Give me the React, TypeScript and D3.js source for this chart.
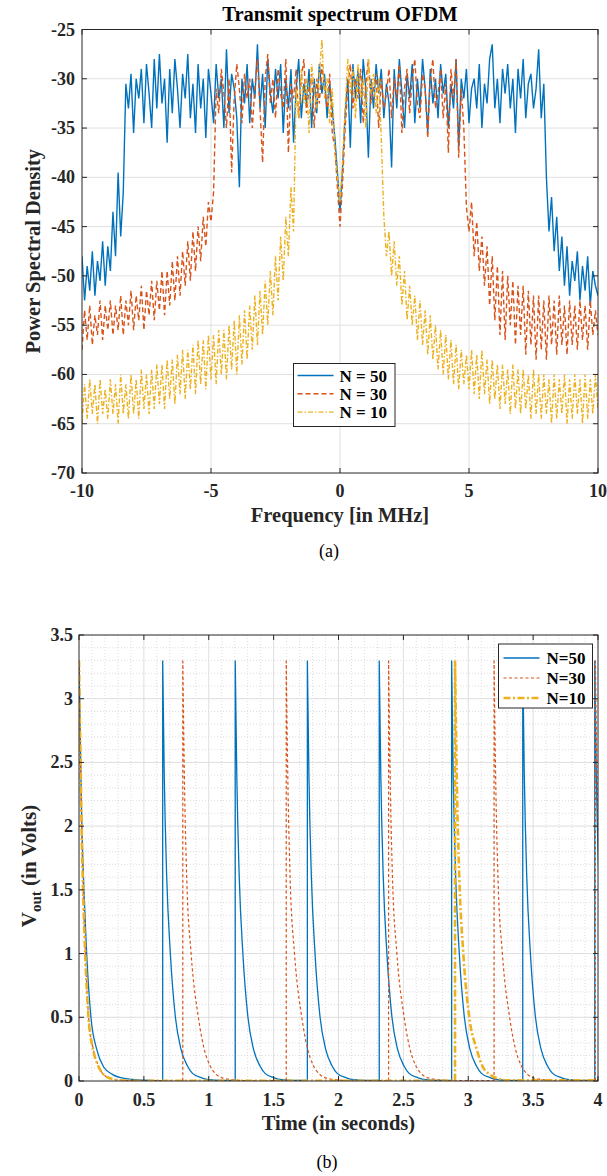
import React from 'react';
import * as d3 from 'd3';

const FONT = '"Liberation Serif", "Times New Roman", serif';
const INK = '#262626';
const BLUE = '#0072BD';
const ORANGE = '#D95319';
const YELLOW = '#EDB120';

// ---- (a) transmit spectrum, dB values read every 0.1 MHz from -10 to 10 ----
const freqMin = -10;
const freqMax = 10;
const psdN50 = [
  -48, -52.5, -49, -51.5, -47.5, -52, -48.5, -50.5, -46.5, -51,
  -47, -49.5, -43.5, -48, -39.5, -46, -41.5, -30.5, -33, -29.5,
  -35.5, -30, -32, -29, -34.5, -28.5, -31.5, -35, -28, -33,
  -27.5, -32.5, -30, -36.5, -29, -33.5, -28, -31, -35, -29.5,
  -32, -27.5, -34, -30.5, -35.5, -28.5, -33, -30, -36, -29,
  -31.5, -34.5, -28.5, -32, -30, -35, -27, -33.5, -29.5, -31,
  -34, -41, -30, -32.5, -28.5, -34.5, -30, -32, -26.5, -33,
  -29.5, -35, -28, -31.5, -33.5, -29, -32, -28.5, -35.5, -30,
  -33, -29, -36.5, -31, -28, -34, -30.5, -32.5, -29, -35,
  -30, -33.5, -28.5, -31.5, -29.5, -34, -30.5, -33, -36, -39.5,
  -43.5, -39, -33.5, -30, -37, -28.5, -32, -29, -34.5, -28,
  -31, -38, -30, -33, -28.5, -31.5, -29, -34, -30.5, -32.5,
  -39, -29, -33, -28, -31.5, -35, -29.5, -32, -28.5, -34.5,
  -30, -33, -28, -31, -35.5, -29, -32.5, -30, -34, -28.5,
  -31.5, -29.5, -35, -30.5, -33, -28, -37, -30, -32, -29,
  -34.5, -31, -30, -33, -28.5, -35, -30.5, -32.5, -28, -26.5,
  -33, -30, -34.5, -29, -31.5, -28.5, -33, -30, -35.5, -29,
  -32, -28, -34, -30.5, -29.5, -33, -31, -27, -34, -30.5,
  -40, -45.5, -42, -47.5, -44, -49.5, -46, -51, -47, -52,
  -48.5, -50.5, -47.5, -52.5, -49, -51.5, -48, -53, -49.5, -51,
  -52,
];
const psdN30 = [
  -57.5, -53.5, -56.5, -53, -57, -54, -56, -52.5, -56.5, -53,
  -55.5, -52.5, -56, -53, -55.5, -52, -56, -52.5, -55, -51.5,
  -55.5, -52, -54.5, -51, -55.5, -51.5, -54, -50.5, -54.5, -50.5,
  -53.5, -49.5, -54, -49.5, -53, -48.5, -52.5, -48, -52, -47.5,
  -51, -46.5, -50.5, -45.5, -49.5, -45, -48.5, -44, -47, -42.5,
  -44.5, -41.5, -31, -33.5, -29, -31.5, -35, -30, -39.5, -32,
  -28.5, -31, -34.5, -29.5, -32, -30, -35, -31, -28, -33,
  -38.5, -30, -27.5, -32.5, -30, -34, -29, -31.5, -33, -28,
  -37.5, -30.5, -32, -29, -34, -30, -28, -33.5, -31, -29.5,
  -35, -30, -32.5, -28.5, -31, -33, -29.5, -35.5, -37, -41,
  -45, -40.5, -35, -31, -28.5, -33, -30, -32, -29, -34.5,
  -30.5, -28, -32.5, -31, -29.5, -35, -30, -33, -31.5, -29,
  -34, -30, -32, -28.5, -35.5, -31, -29, -33.5, -30, -28,
  -32.5, -34, -29.5, -31, -36, -30, -28, -33, -31.5, -29,
  -34, -30.5, -37.5, -29, -32, -28, -38, -31, -35, -43,
  -45.5, -42.5, -48, -44.5, -49.5, -46, -51, -47, -53, -48,
  -54.5, -49, -56, -49.5, -56.5, -50, -55, -50.5, -57, -51,
  -56, -51, -58, -51.5, -57, -52, -58.5, -52, -57.5, -52.5,
  -58.5, -52, -57, -52.5, -58, -52, -57, -53, -58, -52.5,
  -57, -53, -57.5, -52.5, -56.5, -53, -57.5, -52.5, -56, -53.5,
  -56,
];
const psdN10 = [
  -65, -61, -64.5, -60.5, -64, -61, -65, -60.5, -64, -61.5,
  -64.5, -60.5, -64, -61, -65, -60, -64, -61, -64.5, -60,
  -64, -60.5, -64.5, -59.5, -63.5, -60, -64, -59.5, -63.5, -59,
  -63, -59, -63.5, -58.5, -62.5, -58.5, -63, -58, -62, -57.5,
  -62.5, -57.5, -61.5, -57, -62, -56.5, -61, -56.5, -61.5, -56,
  -60.5, -56, -61, -55.5, -60, -55.5, -60.5, -55, -59.5, -54.5,
  -60, -54, -59, -53.5, -58.5, -53, -57.5, -52, -57, -51.5,
  -56, -50.5, -55, -49.5, -54, -48, -52.5, -46, -50.5, -44,
  -48, -41, -45.5, -31, -34, -29, -32.5, -30, -35.5, -28.5,
  -31, -33, -29.5, -26, -32, -30, -34.5, -31, -37, -40,
  -42.5, -38.5, -33, -28, -31.5, -29, -34, -28.5, -32, -30,
  -35, -28, -31.5, -29.5, -33.5, -30, -36, -44, -48, -45.5,
  -50, -46.5, -51, -48, -53, -49.5, -54.5, -51, -55, -52,
  -56.5, -52.5, -57, -53.5, -58, -54, -58.5, -55, -59.5, -55.5,
  -60, -56, -60.5, -56.5, -61, -57, -61.5, -57.5, -61, -58,
  -61.5, -57.5, -62, -58, -62.5, -57.5, -62, -58.5, -63, -58.5,
  -62.5, -59, -63.5, -59, -63, -59.5, -64, -59, -63.5, -59.5,
  -64, -59.5, -63.5, -60, -64.5, -59.5, -64, -60, -64.5, -60,
  -64, -60.5, -65, -60, -64.5, -60.5, -64, -60, -65, -60.5,
  -64.5, -60, -64, -60.5, -65, -60, -64.5, -60.5, -64, -60,
  -63.5,
];
const psdTicksX = [-10, -5, 0, 5, 10];
const psdTicksY = [-70, -65, -60, -55, -50, -45, -40, -35, -30, -25];
const psdLegend = ['N = 50', 'N = 30', 'N = 10'];

// ---- (b) output voltage: pulse start times and read decay profiles [dt, V] ----
const vN50Initial = [[0, 3.3], [0.02, 2.1], [0.04, 1.45], [0.059, 1.0], [0.092, 0.5], [0.136, 0.25], [0.19, 0.11], [0.26, 0.05], [0.35, 0.02], [0.5, 0.006], [0.6, 0.003]];
const vN50Starts = [0.645, 1.204, 1.76, 2.314, 2.872, 3.42, 3.975];
const vN50Decay = [[0, 3.3], [0.012, 2.4], [0.031, 1.6], [0.059, 1.0], [0.098, 0.5], [0.141, 0.25], [0.19, 0.12], [0.23, 0.06], [0.3, 0.025], [0.36, 0.01], [0.45, 0.004]];
const vN30Initial = [[0, 3.3], [0.02, 2.0], [0.049, 1.0], [0.074, 0.5], [0.11, 0.25], [0.15, 0.12], [0.19, 0.05], [0.26, 0.015], [0.33, 0.005], [0.5, 0.002]];
const vN30Starts = [0.8, 1.597, 2.386, 3.199, 3.98];
const vN30Decay = [[0, 3.3], [0.012, 2.4], [0.03, 1.6], [0.064, 1.0], [0.12, 0.5], [0.165, 0.25], [0.21, 0.12], [0.26, 0.05], [0.32, 0.02], [0.4, 0.008], [0.5, 0.003]];
const vN10Initial = [[0, 3.3], [0.02, 2.0], [0.048, 1.0], [0.073, 0.5], [0.108, 0.25], [0.148, 0.12], [0.19, 0.05], [0.26, 0.015], [0.33, 0.004], [0.5, 0.002]];
const vN10Starts = [2.898];
const vN10Decay = [[0, 3.3], [0.015, 2.3], [0.033, 1.6], [0.064, 1.0], [0.11, 0.5], [0.167, 0.25], [0.21, 0.12], [0.27, 0.05], [0.33, 0.02], [0.4, 0.005]];
const vTicksX = [0, 0.5, 1, 1.5, 2, 2.5, 3, 3.5, 4];
const vTicksY = [0, 0.5, 1, 1.5, 2, 2.5, 3, 3.5];
const vLegend = ['N=50', 'N=30', 'N=10'];

const fmt = (v: number) => String(v);

const TopChart = () => {
  const left = 82, right = 598, top = 29.5, bottom = 473;
  const x = d3.scaleLinear().domain([freqMin, freqMax]).range([left, right]);
  const y = d3.scaleLinear().domain([-70, -25]).range([bottom, top]);
  const mk = (vals: number[]) =>
    d3.line<number>()
      .x((_, i) => x(freqMin + ((freqMax - freqMin) * i) / (vals.length - 1)))
      .y((d) => y(d))(vals) || '';
  const series = [
    { vals: psdN50, color: BLUE, dash: undefined },
    { vals: psdN30, color: ORANGE, dash: '5,3' },
    { vals: psdN10, color: YELLOW, dash: '5,2,1.5,2' },
  ];
  const lx = 293.5, ly = 363.5, lw = 101.5, lh = 63;
  return (
    <g fontFamily={FONT}>
      <defs>
        <clipPath id="clipA"><rect x={left} y={top} width={right - left} height={bottom - top} /></clipPath>
      </defs>
      <rect x={left} y={top} width={right - left} height={bottom - top} fill="#fff" />
      {psdTicksX.slice(1, -1).map((t) => (
        <line key={'gx' + t} x1={x(t)} x2={x(t)} y1={top} y2={bottom} stroke="#e0e0e0" strokeWidth={1} />
      ))}
      {psdTicksY.slice(1, -1).map((t) => (
        <line key={'gy' + t} x1={left} x2={right} y1={y(t)} y2={y(t)} stroke="#e0e0e0" strokeWidth={1} />
      ))}
      <g clipPath="url(#clipA)">
        {series.map((s, i) => (
          <path key={i} d={mk(s.vals)} fill="none" stroke={s.color} strokeWidth={1.4} strokeDasharray={s.dash} />
        ))}
      </g>
      <rect x={left} y={top} width={right - left} height={bottom - top} fill="none" stroke={INK} strokeWidth={1} />
      {psdTicksX.map((t) => (
        <g key={'tx' + t}>
          <line x1={x(t)} x2={x(t)} y1={bottom} y2={bottom - 5} stroke={INK} />
          <line x1={x(t)} x2={x(t)} y1={top} y2={top + 5} stroke={INK} />
          <text x={x(t)} y={497} textAnchor="middle" fontSize={18} fontWeight="bold" fill={INK}>{fmt(t)}</text>
        </g>
      ))}
      {psdTicksY.map((t) => (
        <g key={'ty' + t}>
          <line x1={left} x2={left + 5} y1={y(t)} y2={y(t)} stroke={INK} />
          <line x1={right} x2={right - 5} y1={y(t)} y2={y(t)} stroke={INK} />
          <text x={75} y={y(t) + 6} textAnchor="end" fontSize={18} fontWeight="bold" fill={INK}>{fmt(t)}</text>
        </g>
      ))}
      <text x={(left + right) / 2} y={21} textAnchor="middle" fontSize={20.5} fontWeight="bold" fill="#000">Transmit spectrum OFDM</text>
      <text x={(left + right) / 2} y={522} textAnchor="middle" fontSize={20.5} fontWeight="bold" fill={INK}>Frequency [in MHz]</text>
      <text transform={`translate(40,${(top + bottom) / 2}) rotate(-90)`} textAnchor="middle" fontSize={20.5} fontWeight="bold" fill={INK}>Power Spectral Density</text>
      <text x={329} y={557} textAnchor="middle" fontSize={18} fill="#000">(a)</text>
      <rect x={lx} y={ly} width={lw} height={lh} fill="#fff" stroke={INK} strokeWidth={1} />
      {series.map((s, i) => (
        <g key={'lg' + i}>
          <line x1={lx + 4} x2={lx + 40} y1={ly + 12 + i * 18.3} y2={ly + 12 + i * 18.3} stroke={s.color} strokeWidth={1.4} strokeDasharray={s.dash} />
          <text x={lx + 46} y={ly + 12 + i * 18.3 + 6} fontSize={17} fontWeight="bold" fill="#000">{psdLegend[i]}</text>
        </g>
      ))}
    </g>
  );
};

const BottomChart = () => {
  const left = 79, right = 598, top = 635, bottom = 1081;
  const x = d3.scaleLinear().domain([0, 4]).range([left, right]);
  const y = d3.scaleLinear().domain([0, 3.5]).range([bottom, top]);
  const mono = d3.line<number[]>().x((d) => x(d[0])).y((d) => y(d[1])).curve(d3.curveMonotoneX);
  const trainPath = (initial: number[][], starts: number[], decay: number[][]) => {
    const segs: number[][][] = [initial];
    starts.forEach((s) => segs.push(decay.map(([dt, v]) => [s + dt, v])));
    let d = '';
    segs.forEach((seg, i) => {
      const next = i + 1 < segs.length ? segs[i + 1][0][0] : 4.6;
      const pts = seg.filter((p) => p[0] < next);
      const last = pts[pts.length - 1];
      pts.push([next, last[1]]);
      if (i > 0) {
        const prev = segs[i - 1];
        const tailV = prev[prev.length - 1][1];
        d += `M${x(seg[0][0])},${y(tailV)}L${x(seg[0][0])},${y(seg[0][1])}`;
      }
      d += mono(pts) || '';
    });
    return d;
  };
  const series = [
    { d: trainPath(vN50Initial, vN50Starts, vN50Decay), color: BLUE, w: 1.3, dash: undefined },
    { d: trainPath(vN30Initial, vN30Starts, vN30Decay), color: ORANGE, w: 1.2, dash: '3,2.5' },
    { d: trainPath(vN10Initial, vN10Starts, vN10Decay), color: YELLOW, w: 2.6, dash: '7,2.5,2,2.5' },
  ];
  const minorX = d3.range(0, 41).map((i) => i / 10).filter((v, i) => i % 5 !== 0);
  const minorY = d3.range(0, 36).map((i) => i / 10).filter((v, i) => i % 5 !== 0);
  const lx = 498.5, ly = 644, lw = 94, lh = 64;
  return (
    <g fontFamily={FONT}>
      <defs>
        <clipPath id="clipB"><rect x={left} y={top} width={right - left} height={bottom - top} /></clipPath>
      </defs>
      <rect x={left} y={top} width={right - left} height={bottom - top} fill="#fff" />
      {minorX.map((t) => (
        <line key={'mx' + t} x1={x(t)} x2={x(t)} y1={top} y2={bottom} stroke="#d4d4d4" strokeWidth={0.8} strokeDasharray="1,2" />
      ))}
      {minorY.map((t) => (
        <line key={'my' + t} x1={left} x2={right} y1={y(t)} y2={y(t)} stroke="#d4d4d4" strokeWidth={0.8} strokeDasharray="1,2" />
      ))}
      {vTicksX.slice(1, -1).map((t) => (
        <line key={'gx' + t} x1={x(t)} x2={x(t)} y1={top} y2={bottom} stroke="#dedede" strokeWidth={1} />
      ))}
      {vTicksY.slice(1, -1).map((t) => (
        <line key={'gy' + t} x1={left} x2={right} y1={y(t)} y2={y(t)} stroke="#dedede" strokeWidth={1} />
      ))}
      <g clipPath="url(#clipB)">
        {series.map((s, i) => (
          <path key={i} d={s.d} fill="none" stroke={s.color} strokeWidth={s.w} strokeDasharray={s.dash} />
        ))}
      </g>
      <rect x={left} y={top} width={right - left} height={bottom - top} fill="none" stroke={INK} strokeWidth={1} />
      {vTicksX.map((t) => (
        <g key={'tx' + t}>
          <line x1={x(t)} x2={x(t)} y1={bottom} y2={bottom - 5} stroke={INK} />
          <line x1={x(t)} x2={x(t)} y1={top} y2={top + 5} stroke={INK} />
          <text x={x(t)} y={1106} textAnchor="middle" fontSize={18} fontWeight="bold" fill={INK}>{fmt(t)}</text>
        </g>
      ))}
      {vTicksY.map((t) => (
        <g key={'ty' + t}>
          <line x1={left} x2={left + 5} y1={y(t)} y2={y(t)} stroke={INK} />
          <line x1={right} x2={right - 5} y1={y(t)} y2={y(t)} stroke={INK} />
          <text x={73} y={y(t) + 6} textAnchor="end" fontSize={18} fontWeight="bold" fill={INK}>{fmt(t)}</text>
        </g>
      ))}
      <text x={(left + right) / 2} y={1130} textAnchor="middle" fontSize={20.5} fontWeight="bold" fill={INK}>Time (in seconds)</text>
      <text transform={`translate(36,866) rotate(-90)`} textAnchor="middle" fontSize={21} fontWeight="bold" fill={INK}>
        V<tspan fontSize={15} dy={5}>out</tspan><tspan dy={-5}>{'  (in Volts)'}</tspan>
      </text>
      <text x={327} y={1168} textAnchor="middle" fontSize={18} fill="#000">(b)</text>
      <rect x={lx} y={ly} width={lw} height={lh} fill="#fff" stroke={INK} strokeWidth={1} />
      {series.map((s, i) => (
        <g key={'lg' + i}>
          <line x1={lx + 5} x2={lx + 41} y1={ly + 14 + i * 20} y2={ly + 14 + i * 20} stroke={s.color} strokeWidth={s.w} strokeDasharray={s.dash} />
          <text x={lx + 48} y={ly + 14 + i * 20 + 6} fontSize={17} fontWeight="bold" fill="#000">{vLegend[i]}</text>
        </g>
      ))}
    </g>
  );
};

export default function App() {
  return (
    <div style={{ position: 'absolute', left: 0, top: 0 }}>
      <svg width={607} height={1176} viewBox="0 0 607 1176" style={{ display: 'block', background: '#fff' }}>
        <TopChart />
        <BottomChart />
      </svg>
    </div>
  );
}
